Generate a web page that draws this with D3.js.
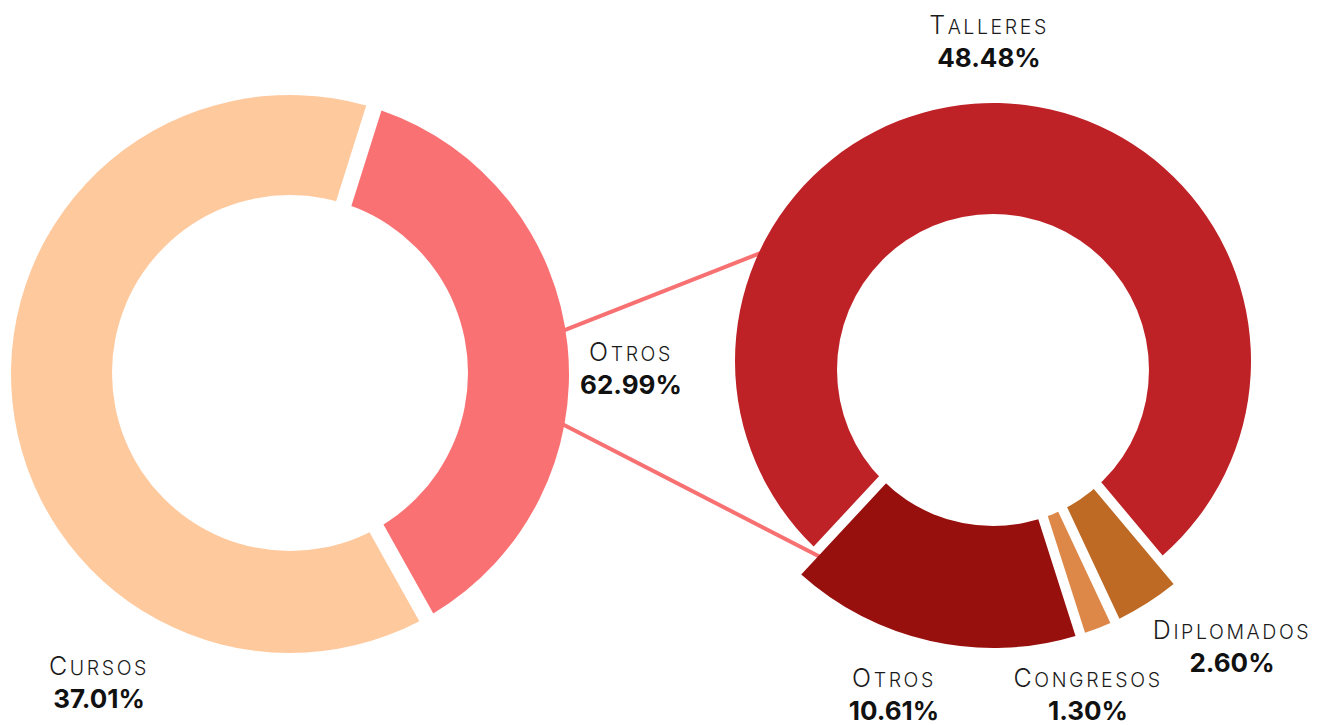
<!DOCTYPE html>
<html><head><meta charset="utf-8">
<script src="https://cdn.jsdelivr.net/npm/d3@7"></script>
<style>
html,body{margin:0;padding:0;background:#fff;}
svg{display:block;font-family:Inter,"Noto Sans",sans-serif;}
</style></head><body>
<svg id="chart" width="1322" height="725"></svg>
<script>
// ---- data ----
const leftCategories = ["Cursos", "Otros"];
const leftValues = [37.01, 62.99];
const rightCategories = ["Talleres", "Otros", "Congresos", "Diplomados"];
const rightValues = [48.48, 10.61, 1.30, 2.60];

// ---- styles / layout ----
const leftColors = ["#FA7173", "#FFC99E"];
const rightColors = ["#BF2226", "#98100D", "#DD8848", "#BE6A25"];
const deg = Math.PI / 180;
const L = {cx: 290, cy: 374, r: 279, inner: 120, holeCx: 290, holeCy: 373, holeR: 178, start: 17.5, gap: 16};
const R = {cx: 993, cy: 361, inner: 128, holeCx: 993, holeCy: 370, holeR: 156, start: 140, gap: 10};
const rightOuter = [258, 287, 287, 287];
const leftLabelPos = [[99, 675], [631, 361]];
const rightLabelPos = [[989, 34], [894, 687], [1088, 687], [1232, 639]];

const svg = d3.select("#chart");

// connector lines (behind the donuts)
const connectors = [[[550, 335.9], [775, 247.3]], [[550, 417.7], [850, 572.3]]];
svg.append("g").selectAll("line").data(connectors).join("line")
  .attr("x1", d => d[0][0]).attr("y1", d => d[0][1])
  .attr("x2", d => d[1][0]).attr("y2", d => d[1][1])
  .attr("stroke", "#F87172").attr("stroke-width", 4);

// left donut
const leftPie = d3.pie().sort(null).value(d => d)
  .startAngle(L.start * deg).endAngle((L.start + 360) * deg);
const leftArc = d3.arc().innerRadius(L.inner).outerRadius(L.r)
  .padRadius(100).padAngle(L.gap / 100);
const gL = svg.append("g").attr("transform", `translate(${L.cx},${L.cy})`);
gL.selectAll("path").data(leftPie(leftValues)).join("path")
  .attr("d", leftArc).attr("fill", (d, i) => leftColors[i]);
svg.append("circle").attr("cx", L.holeCx).attr("cy", L.holeCy).attr("r", L.holeR).attr("fill", "#fff");

// right donut (counter-clockwise from start)
const rightPie = d3.pie().sort(null).value(d => d)
  .startAngle((R.start + 360) * deg).endAngle(R.start * deg);
const rightArc = d3.arc().innerRadius(R.inner)
  .outerRadius(d => rightOuter[d.index])
  .padRadius(100).padAngle(R.gap / 100);
const gR = svg.append("g").attr("transform", `translate(${R.cx},${R.cy})`);
gR.selectAll("path").data(rightPie(rightValues)).join("path")
  .attr("d", d => rightArc(d)).attr("fill", (d, i) => rightColors[i]);
svg.append("circle").attr("cx", R.holeCx).attr("cy", R.holeCy).attr("r", R.holeR).attr("fill", "#fff");

// labels
function label(name, value, pos) {
  const t = svg.append("text").attr("x", pos[0]).attr("y", pos[1])
    .attr("text-anchor", "middle").attr("fill", "#1b1b1b")
    .attr("font-weight", 300).attr("letter-spacing", 2.6);
  t.append("tspan").attr("font-size", 25).text(name.charAt(0));
  t.append("tspan").attr("font-size", 19.5).style("text-transform", "uppercase").text(name.slice(1));
  svg.append("text").attr("x", pos[0]).attr("y", pos[1] + 33)
    .attr("text-anchor", "middle").attr("fill", "#111")
    .attr("font-weight", 700).attr("font-size", 26)
    .text(value.toFixed(2) + "%");
}
leftCategories.forEach((c, i) => label(c, leftValues[i], leftLabelPos[i]));
rightCategories.forEach((c, i) => label(c, rightValues[i], rightLabelPos[i]));
</script>
</body></html>
